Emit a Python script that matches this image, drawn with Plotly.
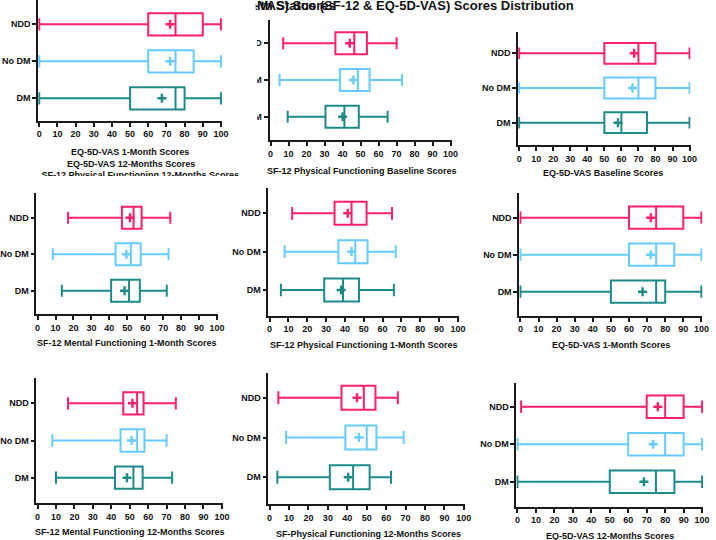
import plotly.graph_objects as go

W, H = 716, 540

# ---------------- data ----------------
GROUPS = ["DM", "No DM", "NDD"]                 # bottom -> top
GROUP_COLORS = ["#1C8A87", "#66CCFF", "#FF1F6B"]
X_TICKS = list(range(0, 101, 10))

# each list: lower whisker, Q1, median, Q3, upper whisker, mean
SF12_PF_BASE_DM = [9.5, 30.5, 41, 49, 65, 40]
SF12_PF_BASE_NODM = [5, 38.5, 48.5, 55, 73, 46]
SF12_PF_BASE_NDD = [7, 36, 46.5, 53.5, 70, 44]

EQ_BASE_DM = [0, 50, 60, 75, 100, 58]
EQ_BASE_NODM = [0, 50, 70, 80, 100, 66.5]
EQ_BASE_NDD = [0, 50, 70, 80, 100, 67.5]

SF12_MF_1M_DM = [13.5, 41, 51, 57, 72, 48.5]
SF12_MF_1M_NODM = [8.5, 43.5, 52, 57.5, 73, 49.5]
SF12_MF_1M_NDD = [17, 47, 53.5, 58, 74, 51.5]

SF12_PF_1M_DM = [6, 29, 39, 47.5, 66, 38]
SF12_PF_1M_NODM = [8, 36.5, 45.5, 52, 67, 43.5]
SF12_PF_1M_NDD = [12, 34.5, 43.5, 51.5, 65, 41.5]

EQ_1M_DM = [0, 50, 75, 80, 100, 67.5]
EQ_1M_NODM = [0, 60, 75, 85, 100, 72]
EQ_1M_NDD = [0, 60, 75, 90, 100, 72]

SF12_MF_12M_DM = [10, 42, 52, 57, 73, 48.5]
SF12_MF_12M_NODM = [8, 45, 54, 58, 70, 51]
SF12_MF_12M_NDD = [16.5, 46.5, 54, 57.5, 75, 51.5]

SF12_PF_12M_DM = [4, 31, 43, 51.5, 62.5, 40.5]
SF12_PF_12M_NODM = [8.5, 39, 50, 55, 69, 46]
SF12_PF_12M_NDD = [4.5, 37, 48.5, 54.5, 66, 45]

EQ_12M_DM = [0, 50, 75, 85, 100, 68.5]
EQ_12M_NODM = [0, 60, 80, 90, 100, 73.5]
EQ_12M_NDD = [2, 70, 80, 90, 100, 76]

MAIN_TITLE = "Health Status (SF-12 & EQ-5D-VAS) Scores Distribution"
MAIN_TITLE_UNDER = "(SF-12 & EQ-5D-VAS) Scores"

# ---------------- layout of the collage (pixels) ----------------
# (x of 0, x of 100, plot top, NDD centre, DM centre, axis line y, title x, title y)
panels = [
    ([SF12_PF_BASE_DM, SF12_PF_BASE_NODM, SF12_PF_BASE_NDD],
     "SF-12 Physical Functioning Baseline Scores", (271, 453.3, 20, 43.3, 116.7, 140, 364, 171)),
    ([EQ_BASE_DM, EQ_BASE_NODM, EQ_BASE_NDD],
     "EQ-5D-VAS Baseline Scores", (522.7, 695.3, 32, 53.3, 122.7, 145, 608, 172.5)),
    ([SF12_MF_1M_DM, SF12_MF_1M_NODM, SF12_MF_1M_NDD],
     "SF-12 Mental Functioning 1-Month Scores", (35, 216.7, 193, 217.7, 290.7, 314.3, 126, 343)),
    ([SF12_PF_1M_DM, SF12_PF_1M_NODM, SF12_PF_1M_NDD],
     "SF-12 Physical Functioning 1-Month Scores", (270, 460.7, 188, 213.3, 290, 315.7, 366, 345)),
    ([EQ_1M_DM, EQ_1M_NODM, EQ_1M_NDD],
     "EQ-5D-VAS 1-Month Scores", (524, 707.3, 193, 217.7, 291.7, 315.7, 616, 345)),
    ([SF12_MF_12M_DM, SF12_MF_12M_NODM, SF12_MF_12M_NDD],
     "SF-12 Mental Functioning 12-Months Scores", (35, 221.7, 378, 403.3, 477.7, 503.3, 128.5, 532)),
    ([SF12_PF_12M_DM, SF12_PF_12M_NODM, SF12_PF_12M_NDD],
     "SF-Physical Functioning 12-Months Scores", (270, 466.7, 372.7, 397.7, 477.3, 504, 370, 533.5)),
    ([EQ_12M_DM, EQ_12M_NODM, EQ_12M_NDD],
     "EQ-5D-VAS 12-Months Scores", (521, 708, 382.7, 406.7, 481.7, 506.7, 615, 536)),
]
# top-left pasted copy of the 1-month EQ-5D-VAS panel (drawn last, on top)
panel_top_left = ([EQ_1M_DM, EQ_1M_NODM, EQ_1M_NDD],
                  "EQ-5D-VAS 1-Month Scores", (36.7, 220.7, 0, 24.3, 98.3, 120.7, 129, 151.5))

FONT = "Liberation Sans, Arial, sans-serif"
AX = "#1a1a1a"

fig = go.Figure()
layout = {}


def px(x):
    return x / W


def py(y):
    return 1 - y / H


def ax_names(k):
    s = "" if k == 1 else str(k)
    return "x" + s, "y" + s, "xaxis" + s, "yaxis" + s


def add_panel(k, data, title, geom):
    x0, x100, top, yN, yD, bottom, tx, ty = geom
    xa, ya, xk, yk = ax_names(k)
    ppu = (x100 - x0) / 100.0
    pad = 0.6
    s = (yD - yN) / 2.0
    for pos, (stats, name, col) in enumerate(zip(data, GROUPS, GROUP_COLORS)):
        lo, q1, med, q3, hi, mean = stats
        fig.add_trace(go.Box(
            orientation="h", y=[pos], q1=[q1], median=[med], q3=[q3],
            lowerfence=[lo], upperfence=[hi], name=name,
            width=0.6, whiskerwidth=0.55, boxpoints=False,
            line=dict(color=col, width=2), fillcolor="white",
            xaxis=xa, yaxis=ya, showlegend=False, hoverinfo="skip"))
        fig.add_trace(go.Scatter(
            x=[mean], y=[pos], mode="markers", name=name + " mean",
            marker=dict(symbol="cross-thin", size=6.5, color=col,
                        line=dict(color=col, width=2.4)),
            xaxis=xa, yaxis=ya, showlegend=False, hoverinfo="skip"))
    layout[xk] = dict(
        domain=[px(x0 - pad * ppu), px(x100 + pad * ppu)], range=[-pad, 100 + pad],
        anchor=ya, showline=True, linecolor=AX, linewidth=1.8,
        ticks="outside", ticklen=4, tickwidth=1.8, tickcolor=AX,
        tickmode="array", tickvals=X_TICKS, tickangle=0,
        tickfont=dict(family=FONT, size=9, color="#111", weight="bold"),
        showgrid=False, zeroline=False, fixedrange=True)
    layout[yk] = dict(
        domain=[py(bottom), py(top)],
        range=[-(bottom - yD) / s, 2 + (yN - top) / s],
        anchor=xa, showline=True, linecolor=AX, linewidth=1.8,
        ticks="outside", ticklen=4, tickwidth=1.8, tickcolor=AX,
        tickmode="array", tickvals=[0, 1, 2], ticktext=GROUPS,
        tickfont=dict(family=FONT, size=9, color="#111", weight="bold"),
        showgrid=False, zeroline=False, fixedrange=True)
    return dict(text=title, x=px(tx), y=py(ty), xref="paper", yref="paper",
                xanchor="center", yanchor="middle", showarrow=False,
                font=dict(family=FONT, size=9, color="#111", weight="bold"))


def hidden_axes(k, xr_px, yr_px):
    xa, ya, xk, yk = ax_names(k)
    layout[xk] = dict(domain=[px(xr_px[0]), px(xr_px[1])], range=list(xr_px),
                      anchor=ya, visible=False, fixedrange=True)
    layout[yk] = dict(domain=[py(yr_px[1]), py(yr_px[0])], range=[yr_px[1], yr_px[0]],
                      anchor=xa, visible=False, fixedrange=True)
    return xa, ya


annotations = []
k = 1
for data, title, geom in panels:
    annotations.append(add_panel(k, data, title, geom))
    k += 1

# white paper piece covering the left part of the middle top panel
xa, ya = hidden_axes(k, (0, 257.5), (0, 148))
fig.add_trace(go.Scatter(x=[0, 257.5, 257.5, 0], y=[0, 0, 148, 148], mode="lines",
                         fill="toself", fillcolor="white", line=dict(width=0, color="white"),
                         xaxis=xa, yaxis=ya, showlegend=False, hoverinfo="skip"))
k += 1

annotations.append(add_panel(k, *panel_top_left))
k += 1

# overlapping, clipped main title
xa, ya = hidden_axes(k, (256, 716), (0, 17))
fig.add_trace(go.Scatter(x=[337, 578], y=[7, 7], mode="text",
                         text=[MAIN_TITLE_UNDER, MAIN_TITLE], textposition="middle left",
                         textfont=dict(family=FONT, size=13, color="#111", weight="bold"),
                         xaxis=xa, yaxis=ya, showlegend=False, hoverinfo="skip"))
k += 1

# half-hidden caption under the top-left panel
xa, ya = hidden_axes(k, (0, 257), (168, 176))
fig.add_trace(go.Scatter(x=[139], y=[176], mode="text",
                         text=["SF-12 Physical Functioning 12-Months Scores"],
                         textposition="middle center",
                         textfont=dict(family=FONT, size=9, color="#111", weight="bold"),
                         xaxis=xa, yaxis=ya, showlegend=False, hoverinfo="skip"))
k += 1

annotations.append(dict(text="EQ-5D-VAS 12-Months Scores", x=px(129.5), y=py(163.5),
                        xref="paper", yref="paper", xanchor="center", yanchor="middle",
                        showarrow=False,
                        font=dict(family=FONT, size=9, color="#111", weight="bold")))

fig.update_layout(
    width=W, height=H, margin=dict(l=0, r=0, t=0, b=0),
    paper_bgcolor="white", plot_bgcolor="white",
    boxmode="overlay", showlegend=False,
    annotations=annotations, **layout)

fig.write_html("out.html", config={"displayModeBar": False},
               post_script="document.body.style.margin='0px';"
                           "document.body.style.overflow='hidden';")
